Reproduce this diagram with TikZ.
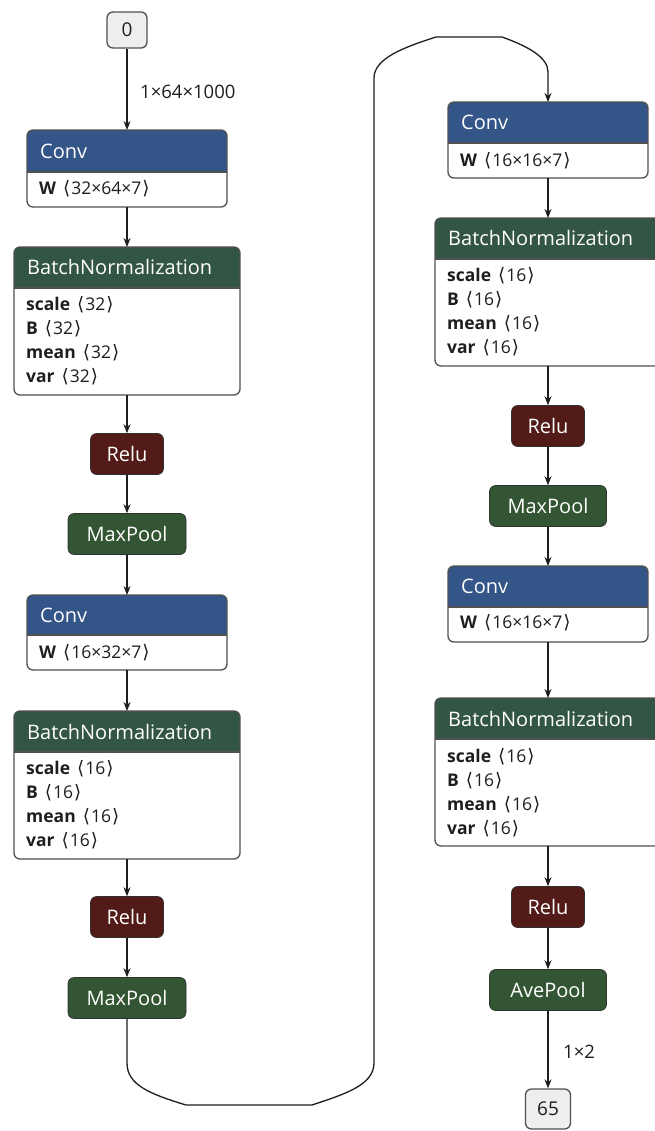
\documentclass[tikz,border=0pt]{standalone}
\usepackage{fontspec}
\setmainfont{Open Sans}
\newfontfamily\brk{DejaVu Sans}
\usetikzlibrary{arrows.meta,calc}

\definecolor{convc}{RGB}{51,85,136}
\definecolor{normc}{RGB}{51,85,68}
\definecolor{actc}{RGB}{82,27,24}
\definecolor{poolc}{RGB}{51,85,51}
\definecolor{framec}{RGB}{80,80,80}
\definecolor{inc}{RGB}{238,238,238}
\definecolor{txtc}{RGB}{30,30,30}

\tikzset{
  boxframe/.style={draw=framec, line width=1.3pt, rounded corners=6pt},
  hdrtext/.style={text=white, font=\fontsize{20}{24}\selectfont, inner sep=0pt, anchor=west},
  rowtext/.style={text=txtc, font=\fontsize{17.5}{21}\selectfont, inner sep=0pt, anchor=west},
  smallop/.style={rounded corners=6pt, text=white, font=\fontsize{20}{24}\selectfont,
    inner sep=0pt, draw=framec!60!black, line width=0.6pt},
  ionode/.style={rounded corners=6pt, fill=inc, draw=framec, line width=1.3pt,
    text=txtc, font=\fontsize{19}{22}\selectfont, inner sep=0pt},
  edge/.style={draw=txtc, line width=1.3pt, -{Stealth[length=9pt,width=7pt]}},
  edgelabel/.style={text=txtc, font=\fontsize{18.5}{22}\selectfont, inner sep=0pt, anchor=west},
}

% layer box: #1 name, #2 left x, #3 top y, #4 width, #5 header height,
% #6 body height, #7 header colour, #8 title
\newcommand\layerbox[8]{%
  \path (#2,#3) coordinate (#1-nw) ++(#4,#5) coordinate (#1-hr)
        (#2,#3) ++(#4,#5+#6) coordinate (#1-se);
  \node[inner sep=0pt, outer sep=0pt] (#1) at ($(#1-nw)!0.5!(#1-se)$) {};
  \fill[white, rounded corners=6pt] (#1-nw) rectangle (#1-se);
  \begin{scope}
    \clip[rounded corners=6pt] (#1-nw) rectangle (#1-se);
    \fill[#7] (#1-nw) rectangle (#1-hr);
  \end{scope}
  \draw[framec, line width=1.3pt] (#1-nw |- #1-hr) -- (#1-hr);
  \draw[boxframe] (#1-nw) rectangle (#1-se);
  \node[hdrtext] at ($(#1-nw)+(13,#5/2)$) {#8};
}
\newcommand\rowline[3]{\node[rowtext] at (#1,#2) {#3};}
\newcommand\dims[2]{\textbf{#1}\hspace{7pt}{\brk\fontsize{18.5}{20}\selectfont ⟨}\hspace{1pt}#2\hspace{1pt}{\brk\fontsize{18.5}{20}\selectfont ⟩}}

\begin{document}
\begin{tikzpicture}[x=1pt, y=-1pt]
\useasboundingbox (0,0) rectangle (654,1131);
\fill[white] (0,0) rectangle (654,1131);

% ---------- left column ----------
\node[ionode, minimum width=40pt, minimum height=36pt] (in0) at (127,30) {0};

\layerbox{conv1}{27}{130}{200}{42}{35}{convc}{Conv}
\rowline{39}{189}{\dims{W}{32×64×7}}

\layerbox{bn1}{14}{247}{226}{41}{107}{normc}{BatchNormalization}
\rowline{26}{305}{\dims{scale}{32}}
\rowline{26}{329}{\dims{B}{32}}
\rowline{26}{353}{\dims{mean}{32}}
\rowline{26}{377}{\dims{var}{32}}

\node[smallop, fill=actc, minimum width=73pt, minimum height=41pt] (relu1) at (127,454) {Relu};
\node[smallop, fill=poolc, minimum width=118pt, minimum height=41pt] (mp1) at (127,534) {MaxPool};

\layerbox{conv2}{27}{595}{200}{40}{35}{convc}{Conv}
\rowline{39}{653}{\dims{W}{16×32×7}}

\layerbox{bn2}{14}{711}{226}{41}{107}{normc}{BatchNormalization}
\rowline{26}{769}{\dims{scale}{16}}
\rowline{26}{793}{\dims{B}{16}}
\rowline{26}{817}{\dims{mean}{16}}
\rowline{26}{841}{\dims{var}{16}}

\node[smallop, fill=actc, minimum width=73pt, minimum height=41pt] (relu2) at (127,917) {Relu};
\node[smallop, fill=poolc, minimum width=118pt, minimum height=41pt] (mp2) at (127,998) {MaxPool};

% ---------- right column ----------
\layerbox{conv3}{448}{102}{200}{41}{35}{convc}{Conv}
\rowline{460}{161}{\dims{W}{16×16×7}}

\layerbox{bn3}{435}{218}{226}{41}{107}{normc}{BatchNormalization}
\rowline{447}{276}{\dims{scale}{16}}
\rowline{447}{300}{\dims{B}{16}}
\rowline{447}{324}{\dims{mean}{16}}
\rowline{447}{348}{\dims{var}{16}}

\node[smallop, fill=actc, minimum width=73pt, minimum height=41pt] (relu3) at (548,426) {Relu};
\node[smallop, fill=poolc, minimum width=117pt, minimum height=41pt] (mp3) at (548,506) {MaxPool};

\layerbox{conv4}{448}{566}{200}{41}{35}{convc}{Conv}
\rowline{460}{623}{\dims{W}{16×16×7}}

\layerbox{bn4}{435}{698}{226}{41}{107}{normc}{BatchNormalization}
\rowline{447}{757}{\dims{scale}{16}}
\rowline{447}{781}{\dims{B}{16}}
\rowline{447}{805}{\dims{mean}{16}}
\rowline{447}{829}{\dims{var}{16}}

\node[smallop, fill=actc, minimum width=73pt, minimum height=41pt] (relu4) at (548,907) {Relu};
\node[smallop, fill=poolc, minimum width=117pt, minimum height=41pt] (ap) at (548,990) {AvePool};

\node[ionode, minimum width=45pt, minimum height=40pt] (out65) at (548,1109) {65};

% ---------- connectors ----------
\draw[edge] (in0.south) -- (conv1.north |- conv1-nw);
\node[edgelabel] (lbl0) at (140,92) {1×64×1000};
\draw[edge] (conv1.south |- conv1-se) -- (bn1.north |- bn1-nw);
\draw[edge] (bn1.south |- bn1-se) -- (relu1.north);
\draw[edge] (relu1.south) -- (mp1.north);
\draw[edge] (mp1.south) -- (conv2.north |- conv2-nw);
\draw[edge] (conv2.south |- conv2-se) -- (bn2.north |- bn2-nw);
\draw[edge] (bn2.south |- bn2-se) -- (relu2.north);
\draw[edge] (relu2.south) -- (mp2.north);

% long connector from the bottom of the left column to the top of the right one
\coordinate (w1) at (127,1063);
\coordinate (w2) at (186,1105);
\coordinate (w3) at (312,1105);
\coordinate (w4) at (374,1063);
\coordinate (w5) at (374,78);
\coordinate (w6) at (436,37);
\coordinate (w7) at (502,37);
\coordinate (w8) at (548,72);
\draw[edge] (mp2.south) -- (w1)
  .. controls (127,1085) and (150,1094) .. (w2) -- (w3)
  .. controls (345,1094) and (374,1085) .. (w4) -- (w5)
  .. controls (374,58) and (405,47) .. (w6) -- (w7)
  .. controls (530,47) and (548,58) .. (w8) -- (conv3.north |- conv3-nw);

\draw[edge] (conv3.south |- conv3-se) -- (bn3.north |- bn3-nw);
\draw[edge] (bn3.south |- bn3-se) -- (relu3.north);
\draw[edge] (relu3.south) -- (mp3.north);
\draw[edge] (mp3.south) -- (conv4.north |- conv4-nw);
\draw[edge] (conv4.south |- conv4-se) -- (bn4.north |- bn4-nw);
\draw[edge] (bn4.south |- bn4-se) -- (relu4.north);
\draw[edge] (relu4.south) -- (ap.north);
\draw[edge] (ap.south) -- (out65.north);
\node[edgelabel] (lbl65) at (563,1052) {1×2};
\end{tikzpicture}
\end{document}
